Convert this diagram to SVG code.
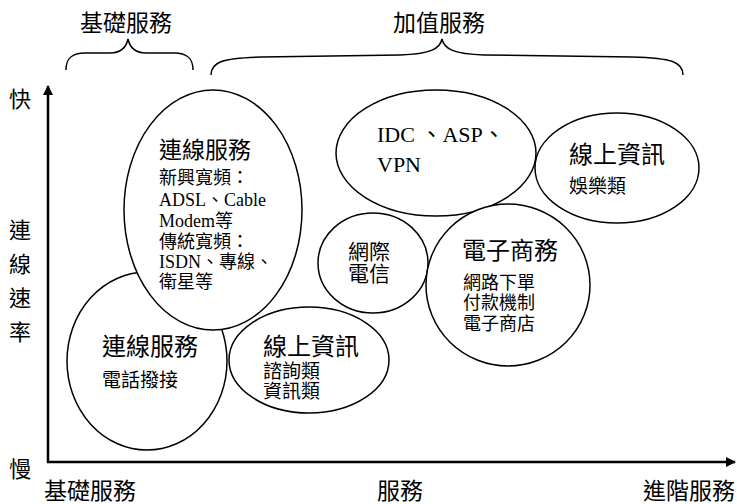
<svg xmlns="http://www.w3.org/2000/svg" width="737" height="504" viewBox="0 0 737 504">
<defs>
<style>
.bg{fill:#fff}
.node ellipse{fill:#fff;stroke:#000;stroke-width:1.5}
text{font-family:"Liberation Serif","Noto Sans CJK TC",serif;fill:#000}
.t24{font-size:24px}
.t23{font-size:23px}
.t22{font-size:22px}
.t21{font-size:21px}
.t19{font-size:19px}
.t18{font-size:18px}
.brace{fill:none;stroke:#000;stroke-width:1.5}
.axis{fill:none;stroke:#000;stroke-width:2.5}
</style>
<marker id="ah" markerWidth="10" markerHeight="10" refX="9" refY="5" orient="auto" markerUnits="userSpaceOnUse" viewBox="0 0 10 10">
<path d="M0,0 L10,5 L0,10 Z" fill="#000"/>
</marker>
</defs>
<rect class="bg" x="0" y="0" width="737" height="504"/>

<g id="labels">
<text class="t23" x="80" y="31">基礎服務</text>
<text class="t23" x="393" y="31">加值服務</text>
<text class="t22" x="9" y="107">快</text>
<text class="t22" x="9" y="238">連</text>
<text class="t22" x="9" y="272">線</text>
<text class="t22" x="9" y="306">速</text>
<text class="t22" x="9" y="340">率</text>
<text class="t22" x="9" y="477">慢</text>
<text class="t23" x="44" y="499">基礎服務</text>
<text class="t23" x="377" y="499">服務</text>
<text class="t23" x="643" y="499">進階服務</text>
</g>

<g id="connectors">
<path class="brace" d="M66,70 C66,58 72,53 85,53 L110,53 C121,53 126,48 128,39 C130,48 135,53 146,53 L174,53 C187,53 193,58 193,70"/>
<path class="brace" d="M211,75 C211,62 222,58 262,57 L400,55 C430,54 440,49 442,39 C444,49 454,54 484,55 L632,57 C672,58 683,62 683,75"/>
<line class="axis" x1="48" y1="463" x2="48" y2="86" marker-end="url(#ah)"/>
<line class="axis" x1="47" y1="462" x2="735" y2="462" marker-end="url(#ah)"/>
</g>

<g id="node-basic-dial" class="node">
<ellipse cx="147" cy="361" rx="80" ry="89"/>
<text class="t24" x="102" y="355">連線服務</text>
<text class="t19" x="102" y="387">電話撥接</text>
</g>

<g id="node-basic-broadband" class="node">
<ellipse cx="213" cy="210" rx="89" ry="120"/>
<text class="t23" x="159" y="158">連線服務</text>
<text class="t18" x="159" y="184">新興寬頻：</text>
<text class="t18" x="159" y="206">ADSL、Cable</text>
<text class="t18" x="159" y="227">Modem等</text>
<text class="t18" x="159" y="248">傳統寬頻：</text>
<text class="t18" x="159" y="268">ISDN、專線、</text>
<text class="t18" x="159" y="288">衛星等</text>
</g>

<g id="node-info-query" class="node">
<ellipse cx="309" cy="360" rx="80" ry="53"/>
<text class="t24" x="263" y="355">線上資訊</text>
<text class="t19" x="263" y="378">諮詢類</text>
<text class="t19" x="263" y="398">資訊類</text>
</g>

<g id="node-voip" class="node">
<ellipse cx="373" cy="263" rx="55" ry="50"/>
<text class="t21" x="348" y="259">網際</text>
<text class="t21" x="348" y="281">電信</text>
</g>

<g id="node-idc" class="node">
<ellipse cx="436" cy="153" rx="100" ry="63"/>
<text class="t22" x="377" y="142">IDC 、ASP、</text>
<text class="t22" x="377" y="172">VPN</text>
</g>

<g id="node-info-ent" class="node">
<ellipse cx="617" cy="168" rx="82" ry="55"/>
<text class="t24" x="569" y="163">線上資訊</text>
<text class="t19" x="569" y="193">娛樂類</text>
</g>

<g id="node-ec" class="node">
<ellipse cx="508" cy="285" rx="82" ry="81"/>
<text class="t24" x="462" y="259">電子商務</text>
<text class="t18" x="463" y="289">網路下單</text>
<text class="t18" x="463" y="309">付款機制</text>
<text class="t18" x="463" y="330">電子商店</text>
</g>
</svg>
